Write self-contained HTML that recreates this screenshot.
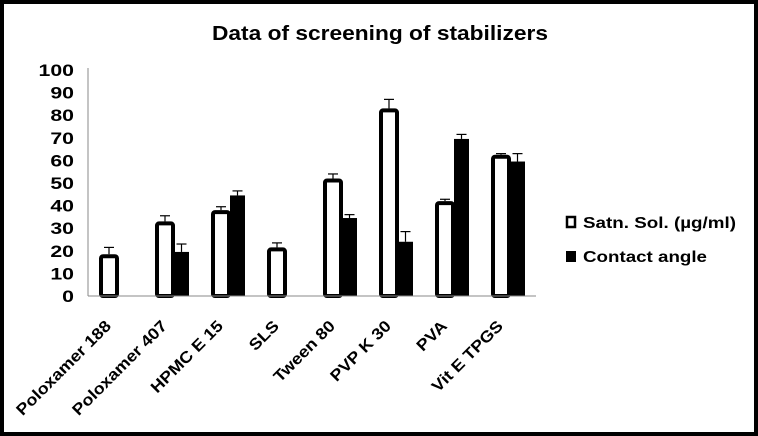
<!DOCTYPE html>
<html><head><meta charset="utf-8"><style>
html,body{margin:0;padding:0;background:#fff}
#frame{position:absolute;left:0;top:0;width:750px;height:428px;border:4px solid #000;background:#fff}
svg{position:absolute;left:0;top:0}
text{font-family:"Liberation Sans",Arial,sans-serif;font-weight:bold;fill:#000}
</style></head><body>
<div id="frame"></div>
<svg id="chart" width="758" height="436">
<text x="380" y="40" text-anchor="middle" font-size="20.5" textLength="336" lengthAdjust="spacingAndGlyphs">Data of screening of stabilizers</text>
</svg>
<script>
const categories=["Poloxamer 188","Poloxamer 407","HPMC E 15","SLS","Tween 80","PVP K 30","PVA","Vit E TPGS"];
const satnValues=[18.5,33,38,21.5,52,83,42,62.5];
const satnErrors=[3,2.5,1.5,2,2,4,0.8,0.5];
const contactValues=[0,19.5,44.5,0,34.5,24,69.5,59.5];
const contactErrors=[0,3.5,2,0,1.5,4.5,2,3.5];
const yTicks=[0,10,20,30,40,50,60,70,80,90,100];

const svg=document.getElementById('chart');
const NS='http://www.w3.org/2000/svg';
const x0=88,x1=536,y0=296,y1=70;
const yScale=v=>y0-(v/100)*(y0-y1);
const band=(x1-x0)/categories.length;
function mk(t,a){const e=document.createElementNS(NS,t);for(const k in a)e.setAttribute(k,a[k]);svg.appendChild(e);return e;}

const ya=mk('line',{x1:x0,y1:y1-2,x2:x0,y2:y0,stroke:'#888','stroke-width':1});


yTicks.forEach(v=>{
  const t=mk('text',{x:0,y:0,'text-anchor':'end','font-size':17,transform:`translate(74 ${yScale(v)+6}) scale(1.25 1)`});
  t.textContent=v;
  
  
});

function err(cx,top,e){
  if(!e)return;
  const ye=top-e*(y0-y1)/100;
  const l=mk('line',{x1:cx,y1:top,x2:cx,y2:ye,stroke:'#000','stroke-width':1.2});
  
  
  const c=mk('line',{x1:cx-5,y1:ye,x2:cx+5,y2:ye,stroke:'#000','stroke-width':1.2});
  
  
}

categories.forEach((c,i)=>{
  const gs=x0+i*band+11;
  const ty=yScale(satnValues[i]);
  const r=mk('rect',{x:gs+2,y:ty+2,width:16,height:y0-ty-2,fill:'#fff',stroke:'#000','stroke-width':4,rx:2});
  
  
  err(gs+10,ty,satnErrors[i]);
  if(contactValues[i]>0){
    const cy=yScale(contactValues[i]);
    const b=mk('rect',{x:gs+19,y:cy,width:15,height:y0-cy,fill:'#000'});
    
    
    err(gs+26.5,cy,contactErrors[i]);
  }
  const cx=x0+i*band+band/2-4, ly=y0+31;
  const t=mk('text',{x:0,y:0,'text-anchor':'end','font-size':16,transform:`translate(${cx} ${ly}) rotate(-45) scale(1.12 1)`});
  t.textContent=c;
  
  
});
const xa=mk('line',{x1:x0,y1:y0,x2:x1,y2:y0,stroke:'#888','stroke-width':1});



const l1=mk('rect',{x:567,y:217,width:8,height:10,fill:'#fff',stroke:'#000','stroke-width':2.5});


const t1=mk('text',{x:583,y:228,'font-size':16,textLength:153,lengthAdjust:'spacingAndGlyphs'});t1.textContent='Satn. Sol. (µg/ml)';


const l2=mk('rect',{x:566,y:251,width:10,height:11,fill:'#000'});


const t2=mk('text',{x:583,y:262,'font-size':16,textLength:124,lengthAdjust:'spacingAndGlyphs'});t2.textContent='Contact angle';


</script>
</body></html>
